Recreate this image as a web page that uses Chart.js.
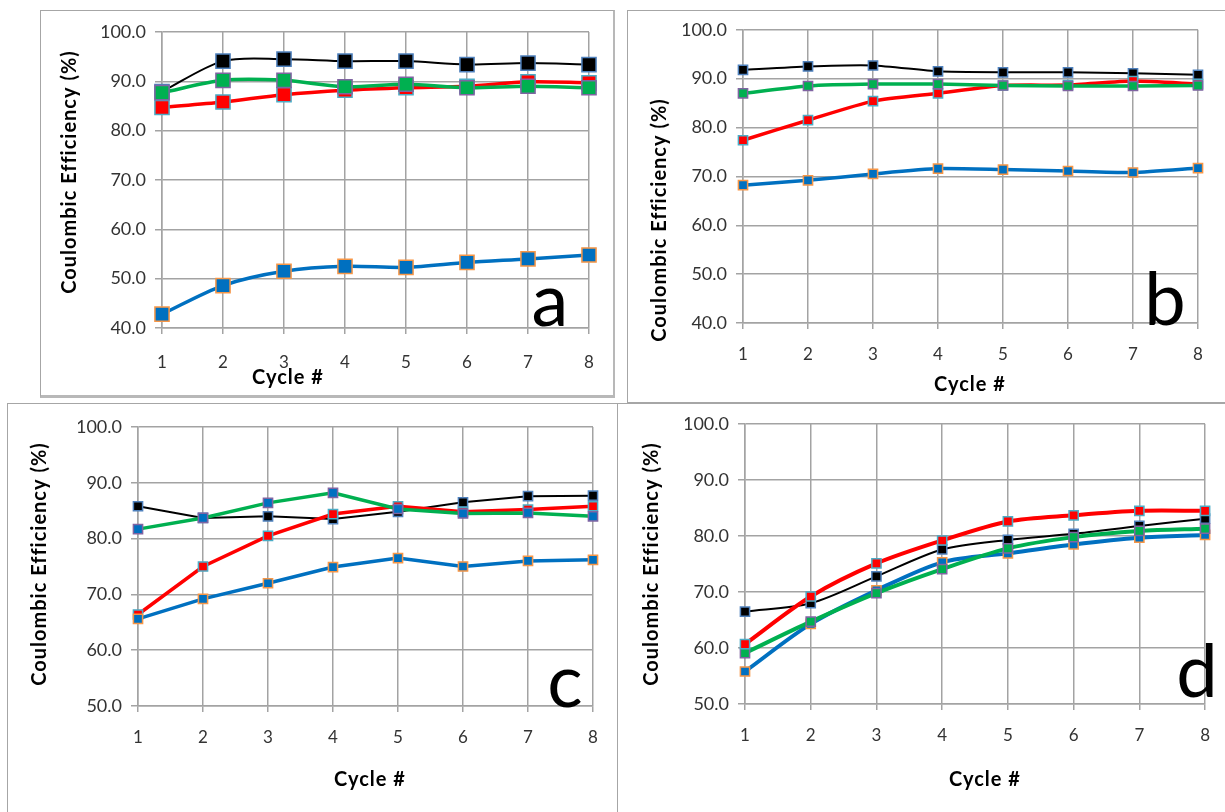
<!DOCTYPE html>
<html>
<head>
<meta charset="utf-8">
<script src="https://cdn.jsdelivr.net/npm/chart.js@4.4.0/dist/chart.umd.min.js"></script>
<style>
  html, body { margin: 0; padding: 0; background: #fff; width: 1225px; height: 812px; overflow: hidden; }
  .frame { position: absolute; box-sizing: border-box; border: 0 solid #a6a6a6; }
  canvas { position: absolute; }
</style>
</head>
<body>
<div class="frame" style="left:40px;top:10px;width:575px;height:388px;border-width:1px 2px 3px 1px;border-color:#a6a6a6 #b8b8b8 #b8b8b8 #a6a6a6;"></div>
<div class="frame" style="left:627px;top:10px;width:600px;height:393px;border-width:1px 0 1px 1px;"></div>
<div class="frame" style="left:7px;top:403px;width:611px;height:412px;border-width:1px 1px 0 1px;"></div>
<div class="frame" style="left:617px;top:403px;width:610px;height:412px;border-width:1px 0 0 0;"></div>
<canvas id="chartA"></canvas>
<canvas id="chartB"></canvas>
<canvas id="chartC"></canvas>
<canvas id="chartD"></canvas>
<script>
// cycle numbers on the x axis
const cycles = ['1', '2', '3', '4', '5', '6', '7', '8'];

// y axis ranges (min, max, step) per panel
const yRangeAB = [40, 100, 10];
const yRangeCD = [50, 100, 10];

// panel a
const aBlack = [87.9, 94.1, 94.5, 94.1, 94.1, 93.4, 93.7, 93.4];
const aRed   = [84.7, 85.8, 87.3, 88.2, 88.7, 89.0, 89.9, 89.7];
const aGreen = [87.7, 90.2, 90.2, 88.9, 89.4, 88.7, 89.0, 88.7];
const aBlue  = [42.8, 48.6, 51.5, 52.5, 52.3, 53.3, 54.0, 54.8];

// panel b
const bBlack = [91.8, 92.5, 92.7, 91.5, 91.3, 91.3, 91.1, 90.8];
const bRed   = [77.4, 81.5, 85.4, 87.0, 88.6, 88.7, 89.5, 88.9];
const bGreen = [87.0, 88.5, 88.9, 88.9, 88.6, 88.5, 88.5, 88.6];
const bBlue  = [68.2, 69.2, 70.5, 71.6, 71.4, 71.1, 70.8, 71.7];

// panel c
const cBlack = [85.8, 83.7, 84.0, 83.5, 84.8, 86.5, 87.6, 87.7];
const cRed   = [66.4, 75.0, 80.5, 84.4, 85.8, 84.8, 85.2, 85.8];
const cGreen = [81.7, 83.7, 86.4, 88.2, 85.3, 84.5, 84.6, 84.0];
const cBlue  = [65.6, 69.2, 72.0, 74.9, 76.5, 75.0, 76.0, 76.2];

// panel d
const dBlack = [66.5, 68.0, 72.8, 77.6, 79.3, 80.4, 81.8, 83.1];
const dRed   = [60.7, 69.2, 75.1, 79.2, 82.6, 83.7, 84.5, 84.5];
const dGreen = [59.1, 64.7, 69.8, 74.1, 77.8, 79.8, 80.9, 81.3];
const dBlue  = [55.8, 64.3, 70.3, 75.3, 76.9, 78.5, 79.7, 80.2];

const yTitle = 'Coulombic Efficiency (%)';
const xTitle = 'Cycle #';
const FONT = 'Lato, "Open Sans", sans-serif';
const GRID = '#a3a3a3';

// draws the axis titles and the panel letter
const panelText = {
    id: 'panelText',
    afterDraw(chart, args, opts) {
        const ctx = chart.ctx;
        (opts.items || []).forEach(t => {
            ctx.save();
            ctx.font = t.font;
            ctx.letterSpacing = t.spacing || '0px';
            ctx.fillStyle = '#000';
            ctx.textAlign = 'center';
            ctx.textBaseline = t.baseline || 'middle';
            ctx.translate(t.x, t.y);
            if (t.rotate) ctx.rotate(-Math.PI / 2);
            ctx.fillText(t.text, 0, 0);
            ctx.restore();
        });
    }
};
Chart.register(panelText);

function series(data, line, fill, edge, width, radius, tension, order) {
    return {
        data: data,
        borderColor: line,
        borderWidth: width,
        backgroundColor: fill,
        pointStyle: 'rect',
        pointRadius: radius,
        pointHoverRadius: radius,
        pointBackgroundColor: fill,
        pointBorderColor: edge,
        pointBorderWidth: 1.5,
        tension: tension,
        clip: false,
        order: order
    };
}

function makePanel(id, box, area, yRange, datasets, texts, xPad) {
    const yW = 60, xH = 40;
    const canvas = document.getElementById(id);
    canvas.width = box[2];
    canvas.height = box[3];
    canvas.style.left = box[0] + 'px';
    canvas.style.top = box[1] + 'px';
    canvas.style.width = box[2] + 'px';
    canvas.style.height = box[3] + 'px';

    const items = texts.map(t => Object.assign({}, t, { x: t.x - box[0], y: t.y - box[1] }));

    return new Chart(canvas.getContext('2d'), {
        type: 'line',
        data: { labels: cycles, datasets: datasets },
        options: {
            responsive: false,
            animation: false,
            events: [],
            layout: {
                padding: {
                    left: area[0] - box[0] - yW,
                    top: area[1] - box[1],
                    right: box[0] + box[2] - area[2],
                    bottom: box[1] + box[3] - area[3] - xH
                }
            },
            scales: {
                x: {
                    offset: false,
                    afterFit: s => { s.height = xH; },
                    grid: { color: GRID, lineWidth: 1.5, tickLength: 6, tickColor: GRID },
                    border: { color: GRID, width: 1.5 },
                    ticks: { color: '#333', font: { family: FONT, size: 17 }, padding: xPad, maxRotation: 0 }
                },
                y: {
                    min: yRange[0],
                    max: yRange[1],
                    afterFit: s => { s.width = yW; },
                    grid: { color: GRID, lineWidth: 1.5, tickLength: 7, tickColor: GRID },
                    border: { color: GRID, width: 1.5 },
                    ticks: {
                        stepSize: yRange[2],
                        color: '#333',
                        font: { family: FONT, size: 18 },
                        padding: 9,
                        callback: v => v.toFixed(1)
                    }
                }
            },
            plugins: {
                legend: { display: false },
                tooltip: { enabled: false },
                panelText: { items: items }
            }
        }
    });
}

const TITLE_FONT = 'bold 20px ' + FONT;
const LETTER_FONT = '74px ' + FONT;

// panel a: big markers, smoothed lines
makePanel('chartA', [40, 10, 573, 386], [162, 32, 589, 328], yRangeAB, [
    series(aBlack, '#000000', '#000000', '#4f81bd', 2, 10, 0.3, 4),
    series(aRed, '#ff0000', '#ff0000', '#4bacc6', 3.5, 10, 0.3, 3),
    series(aGreen, '#00b050', '#00b050', '#8064a2', 3.5, 10, 0.3, 2),
    series(aBlue, '#0070c0', '#0070c0', '#f79646', 3.5, 10, 0.3, 1)
], [
    { text: yTitle, x: 70, y: 172, rotate: true, font: TITLE_FONT, spacing: '1px' },
    { text: xTitle, x: 288, y: 378, font: TITLE_FONT, spacing: '1px' },
    { text: 'a', x: 550, y: 326, baseline: 'alphabetic', font: LETTER_FONT }
], 18);

makePanel('chartB', [627, 10, 598, 392], [743, 27, 1198, 323], yRangeAB, [
    series(bBlack, '#000000', '#000000', '#4f81bd', 2, 6.5, 0.2, 4),
    series(bRed, '#ff0000', '#ff0000', '#4bacc6', 3.5, 6.5, 0.2, 3),
    series(bGreen, '#00b050', '#00b050', '#8064a2', 3.5, 6.5, 0.2, 2),
    series(bBlue, '#0070c0', '#0070c0', '#f79646', 3.5, 6.5, 0.2, 1)
], [
    { text: yTitle, x: 660, y: 220, rotate: true, font: TITLE_FONT, spacing: '1px' },
    { text: xTitle, x: 970, y: 385, font: TITLE_FONT, spacing: '1px' },
    { text: 'b', x: 1165, y: 325, baseline: 'alphabetic', font: LETTER_FONT }
], 15);

// panel c: the green line carries blue markers
makePanel('chartC', [7, 403, 610, 409], [138, 427, 593, 706], yRangeCD, [
    series(cBlack, '#000000', '#000000', '#4f81bd', 2, 6.5, 0, 4),
    series(cRed, '#ff0000', '#ff0000', '#4bacc6', 3.5, 6.5, 0, 3),
    series(cGreen, '#00b050', '#0070c0', '#8064a2', 3.5, 6.5, 0, 2),
    series(cBlue, '#0070c0', '#0070c0', '#f79646', 3.5, 6.5, 0, 1)
], [
    { text: yTitle, x: 40, y: 564, rotate: true, font: TITLE_FONT, spacing: '1px' },
    { text: xTitle, x: 370, y: 780, font: TITLE_FONT, spacing: '1px' },
    { text: 'c', x: 565, y: 707, baseline: 'alphabetic', font: LETTER_FONT }
], 15);

makePanel('chartD', [617, 403, 608, 409], [745, 424, 1207, 704], yRangeCD, [
    series(dBlack, '#000000', '#000000', '#4f81bd', 2, 6.5, 0.3, 3),
    series(dRed, '#ff0000', '#ff0000', '#4bacc6', 4, 6.5, 0.3, 1),
    series(dGreen, '#00b050', '#00b050', '#8064a2', 4, 6.5, 0.3, 2),
    series(dBlue, '#0070c0', '#0070c0', '#f79646', 4, 6.5, 0.3, 4)
], [
    { text: yTitle, x: 652, y: 564, rotate: true, font: TITLE_FONT, spacing: '1px' },
    { text: xTitle, x: 985, y: 780, font: TITLE_FONT, spacing: '1px' },
    { text: 'd', x: 1197, y: 697, baseline: 'alphabetic', font: LETTER_FONT }
], 15);
</script>
</body>
</html>
